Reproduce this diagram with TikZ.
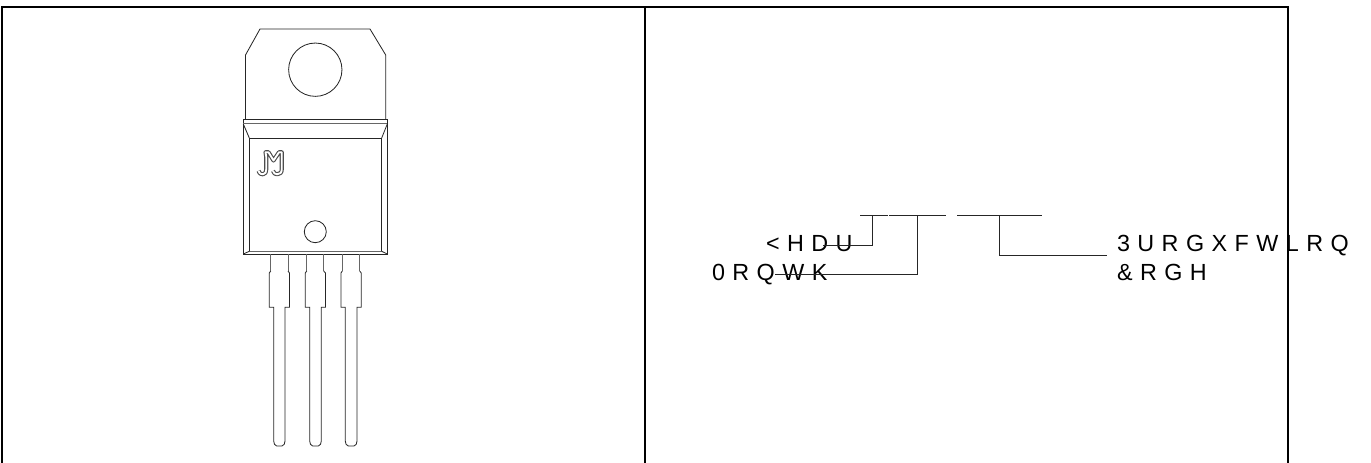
\documentclass[tikz,border=0pt]{standalone}
\usepackage{fontspec}
\setmainfont{Liberation Sans}
\tikzset{
  frameline/.style={line width=1.6pt,black},
  pkg/.style={line width=0.62pt,black!85,line join=miter},
  pkggray/.style={line width=0.75pt,black!60},
  conn/.style={line width=0.62pt,black!85},
  lab/.style={anchor=base west,inner sep=0pt,outer sep=0pt,font=\fontsize{17.5pt}{17.5pt}\selectfont\addfontfeature{LetterSpace=32}},
}
\begin{document}
\begin{tikzpicture}[x=0.75pt,y=-0.75pt]
\useasboundingbox (0,0) rectangle (1371,463);
% frame
\draw[frameline] (2,463) -- (2,7) -- (1288,7) -- (1288,463);
\draw[frameline] (645,7) -- (645,463);
% tab
\draw[pkg] (245.5,119.5) -- (245.5,55) -- (260,29) -- (370,29) -- (385.7,55) -- (385.7,119.5);
\node[draw,circle,pkg,minimum size=40pt,inner sep=0pt] (hole) at (315.3,69.7) {};
% body
\draw[pkg] (243.3,254) -- (243.3,119.5) -- (387.3,119.5) -- (387.3,254) -- cycle;
\draw[pkggray] (243.3,124) -- (387.3,124);
\draw[pkg] (249.3,251.3) -- (249.3,138) -- (381.7,138) -- (381.7,251.3);
\draw[pkggray] (249.3,251.3) -- (381.7,251.3);
\draw[pkg] (243.3,124) -- (249.3,138);
\draw[pkg] (387.3,124) -- (381.7,138);
\draw[pkg] (243.3,254) -- (249.3,251.3);
\draw[pkg] (387.3,254) -- (381.7,251.3);
\node[draw,circle,pkg,minimum size=16.5pt,inner sep=0pt] (mark) at (315.3,231.7) {};
% logo
\foreach \w/\c in {3.1pt/black!70,1.4pt/white}{
\draw[line width=\w,color=\c,line cap=butt,line join=round]
 (258.5,170.8) .. controls (259.5,174) and (262,174.5) .. (263,174.3) .. controls (265.5,174) and (266.3,172) .. (266.3,169) -- (266.3,157) -- (265.5,152.3) -- (268.5,152.3) -- (273.5,160.5) -- (279,152.3) -- (281.8,152.3) -- (281.8,169) .. controls (281.8,172.5) and (280,174.5) .. (277,174.3) .. controls (275,174.3) and (273.5,173) .. (273,170.8);
}
% leads
\foreach \a/\b/\c/\d/\e/\f/\n in {
 270.7/288/269.3/289.5/273.7/285/1,
 306.7/323.7/305.3/325.5/309.7/321.3/2,
 342.3/359.7/341/361.2/345.3/357/3}{
 \draw[pkggray] (\a,254) -- (\a,271);
 \draw[pkggray] (\b,254) -- (\b,271);
 \draw[pkg] (\a,271) -- (\c,273) -- (\c,307.3) -- (\e,307.3) -- (\e,441) .. controls (\e,444) and (\e+1,445) .. (\e+3,446) -- (\f-3,446) .. controls (\f-1,445) and (\f,444) .. (\f,441) -- (\f,307.3) -- (\d,307.3) -- (\d,273) -- (\b,271);
}
% labels
\node[lab] (year) at (766,251.5) {<HDU};
\node[lab] (month) at (712,280.3) {0RQWK};
\node[lab] (prod) at (1117,251.5) {3URGXFWLRQ};
\node[lab] (code) at (1117,280.3) {\&RGH};
% code bars
\coordinate (b1a) at (860,215.3); \coordinate (b1b) at (887.7,215.3);
\coordinate (b2a) at (889.3,215.3); \coordinate (b2b) at (945.7,215.3);
\coordinate (b3a) at (957.3,215.3); \coordinate (b3b) at (1042.3,215.3);
\draw[conn] (b1a) -- (b1b);
\draw[conn] (b2a) -- (b2b);
\draw[conn] (b3a) -- (b3b);
\coordinate (y1) at (872.7,215.3); \coordinate (y2) at (823,245.3);
\coordinate (m1) at (917.3,215.3); \coordinate (m2) at (775,274.7);
\coordinate (p1) at (999,215.3); \coordinate (p2) at (1106.7,255.7);
\draw[conn] (y1) |- (y2);
\draw[conn] (m1) |- (m2);
\draw[conn] (p1) |- (p2);
\end{tikzpicture}
\end{document}
